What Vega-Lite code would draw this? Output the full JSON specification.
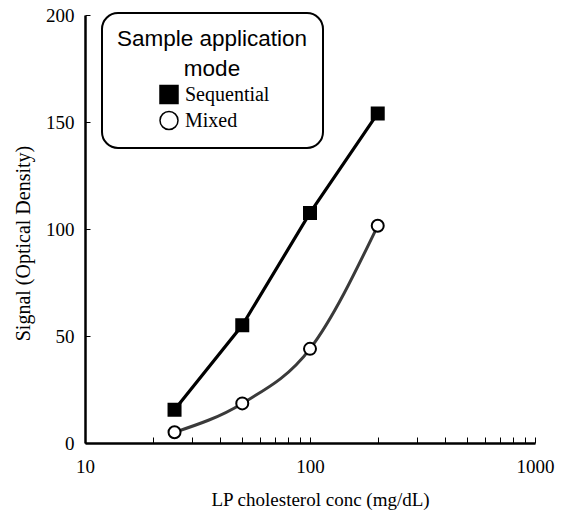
{
  "$schema": "https://vega.github.io/schema/vega-lite/v6.json",
  "width": 450,
  "height": 428,
  "autosize": "none",
  "padding": {"left": 85, "top": 15, "right": 26, "bottom": 73},
  "background": "white",
  "config": {
    "view": {"stroke": null},
    "axis": {
      "grid": false,
      "domainColor": "black",
      "domainWidth": 2.5,
      "tickColor": "black",
      "tickWidth": 1,
      "labelFont": "Liberation Serif",
      "labelFontSize": 19,
      "labelColor": "black",
      "titleFont": "Liberation Serif",
      "titleFontWeight": "normal",
      "titleColor": "black",
      "labelOverlap": false,
      "labelFlush": false
    },
    "legend": {
      "strokeColor": "black",
      "strokeWidth": 2,
      "cornerRadius": 16,
      "fillColor": "white",
      "padding": 15
    }
  },
  "data": {
    "values": [
      {"conc": 25, "signal": 15.5, "mode": "Sequential"},
      {"conc": 50, "signal": 55, "mode": "Sequential"},
      {"conc": 100, "signal": 107.5, "mode": "Sequential"},
      {"conc": 200, "signal": 154, "mode": "Sequential"},
      {"conc": 25, "signal": 5, "mode": "Mixed"},
      {"conc": 50, "signal": 18.5, "mode": "Mixed"},
      {"conc": 100, "signal": 44, "mode": "Mixed"},
      {"conc": 200, "signal": 101.5, "mode": "Mixed"}
    ]
  },
  "encoding": {
    "x": {
      "field": "conc",
      "type": "quantitative",
      "scale": {"type": "log", "domain": [10, 1000], "nice": false},
      "axis": {
        "title": "LP cholesterol conc (mg/dL)",
        "titleFontSize": 19,
        "titleX": 235,
        "titlePadding": 14,
        "values": [10, 20, 30, 40, 50, 60, 70, 80, 90, 100, 200, 300, 400, 500, 600, 700, 800, 900, 1000],
        "format": "d",
        "labelExpr": "datum.value == 10 || datum.value == 100 || datum.value == 1000 ? datum.label : ''",
        "tickSize": -6,
        "labelPadding": 20,
        "labelDx": 6
      }
    },
    "y": {
      "field": "signal",
      "type": "quantitative",
      "scale": {"domain": [0, 200], "nice": false},
      "axis": {
        "title": "Signal (Optical Density)",
        "titleFontSize": 20,
        "titleY": 228,
        "titlePadding": 12,
        "values": [0, 50, 100, 150, 200],
        "tickSize": -5,
        "labelPadding": 16
      }
    }
  },
  "layer": [
    {
      "transform": [{"filter": "datum.mode == 'Sequential'"}],
      "mark": {"type": "line", "color": "black", "strokeWidth": 3.2}
    },
    {
      "transform": [{"filter": "datum.mode == 'Mixed'"}],
      "mark": {"type": "line", "color": "#3a3a3a", "strokeWidth": 3, "interpolate": "monotone"}
    },
    {
      "mark": {"type": "point", "filled": true, "size": 144, "stroke": "black", "strokeWidth": 2, "opacity": 1},
      "encoding": {
        "shape": {
          "field": "mode",
          "type": "nominal",
          "scale": {"domain": ["Sequential", "Mixed"], "range": ["square", "circle"]},
          "legend": {
            "title": ["Sample application", "mode"],
            "orient": "none",
            "legendX": 17,
            "legendY": -2,
            "titleFont": "Liberation Sans",
            "titleFontSize": 22.5,
            "titleFontWeight": "normal",
            "titleColor": "black",
            "titleAlign": "center",
            "titleAnchor": "middle",
            "titleLimit": 400,
            "titleLineHeight": 30,
            "titlePadding": 4,
            "labelFont": "Liberation Serif",
            "labelFontSize": 20,
            "labelColor": "black",
            "labelOffset": 6,
            "symbolSize": 324,
            "symbolOffset": 4,
            "rowPadding": 2,
            "encode": {
              "symbols": {
                "update": {
                  "stroke": {"value": "black"},
                  "strokeWidth": {"value": 2}
                }
              }
            }
          }
        },
        "fill": {
          "field": "mode",
          "type": "nominal",
          "scale": {"domain": ["Sequential", "Mixed"], "range": ["black", "white"]},
          "legend": {"title": ["Sample application", "mode"]}
        }
      }
    }
  ]
}
